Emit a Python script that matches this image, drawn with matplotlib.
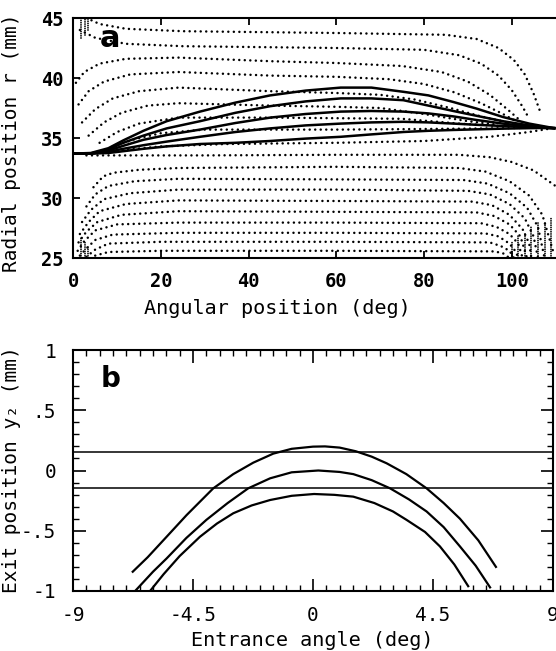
import matplotlib
matplotlib.use('Agg')
import matplotlib.pyplot as plt
from matplotlib.ticker import MultipleLocator

MONO = ['DejaVu Sans Mono', 'DejaVu Sans']

# ------------------------------------------------------------
# panel a : trajectories (solid) and dotted field rows
# ------------------------------------------------------------
traj_deg = [0, 4, 8, 11.4, 16, 21.3, 28.9, 37, 44.9, 53, 61, 68, 75.3, 81, 86.7, 92, 98, 104, 110]
traj1_r = [33.7, 33.75, 34.15, 34.8, 35.6, 36.4, 37.2, 37.95, 38.55, 38.95, 39.2, 39.2, 38.85, 38.55, 38.0, 37.45, 36.75, 36.2, 35.8]
traj2_r = [33.7, 33.72, 34.05, 34.6, 35.2, 35.8, 36.4, 37.1, 37.65, 38.05, 38.3, 38.3, 38.15, 37.7, 37.25, 36.85, 36.4, 36.05, 35.8]
traj3_r = [33.7, 33.7, 33.95, 34.35, 34.85, 35.25, 35.7, 36.25, 36.7, 37.0, 37.2, 37.25, 37.2, 37.05, 36.8, 36.5, 36.2, 35.95, 35.8]
traj4_r = [33.7, 33.7, 33.85, 34.1, 34.4, 34.7, 35.1, 35.5, 35.8, 36.05, 36.2, 36.3, 36.35, 36.3, 36.2, 36.1, 36.0, 35.9, 35.8]
traj5_r = [33.7, 33.7, 33.75, 33.9, 34.1, 34.3, 34.5, 34.6, 34.75, 34.95, 35.1, 35.3, 35.5, 35.6, 35.67, 35.72, 35.78, 35.82, 35.85]

# dotted rows above the beam (deg, r)
row_u0 = [(3, 45.0), (6, 44.5), (12, 44.1), (25, 43.9), (60, 43.75), (85, 43.6), (92, 43.25), (97, 42.5),
          (100.5, 41.5), (103, 40.3), (105, 38.7), (106.5, 37.2)]
row_u1 = [(1.5, 44.0), (5, 43.35), (12, 42.85), (25, 42.65), (60, 42.5), (80, 42.35), (88, 41.9), (93, 41.2),
          (97, 40.2), (100, 39.0), (102.5, 37.6), (104, 36.6)]
row_u2 = [(0.6, 39.6), (2.5, 40.5), (6, 41.2), (12, 41.6), (24, 41.7), (45, 41.4), (60, 41.25), (75, 41.0),
          (84, 40.5), (90, 39.7), (95, 38.6), (99, 37.4), (101.5, 36.6)]
row_u3 = [(1.2, 37.8), (3.5, 38.9), (7, 39.7), (13, 40.3), (24, 40.5), (45, 40.2), (60, 40.1), (72, 39.9),
          (80, 39.5), (87, 38.8), (93, 37.9), (98, 37.0), (101, 36.4)]
row_u4 = [(2, 36.3), (5, 37.4), (9, 38.3), (15, 38.9), (24, 39.2), (45, 38.9), (60, 38.75), (70, 38.6),
          (78, 38.2), (86, 37.5), (93, 36.8), (99, 36.3)]
row_u5 = [(3.5, 35.2), (7, 36.3), (11, 37.1), (17, 37.7), (24, 37.9), (45, 37.7), (60, 37.6), (70, 37.5),
          (80, 37.0), (90, 36.4), (97, 36.1)]
row_u6 = [(6, 34.6), (10, 35.5), (15, 36.2), (24, 36.7), (45, 36.7), (60, 36.65), (75, 36.6), (88, 36.2), (97, 36.0)]
row_u7 = [(9, 34.3), (14, 34.9), (20, 35.4), (30, 35.7), (60, 35.7), (80, 35.75), (95, 35.8), (104, 35.85)]

# dotted rows below the beam (deg, r)
row_la = [(10, 33.95), (20, 34.3), (35, 34.5), (60, 34.6), (80, 34.75), (95, 35.1), (104, 35.5), (109, 35.8)]
row_l0 = [(3, 33.55), (30, 33.55), (60, 33.6), (88, 33.6), (95, 33.4), (100, 33.0), (105, 32.3), (110, 31.0)]
row_l1 = [(4.6, 30.9), (6.8, 31.8), (9.1, 32.1), (15, 32.35), (24, 32.5), (60, 32.6), (88, 32.5), (94, 32.2),
          (99.5, 31.4), (104, 30.2), (107, 28.6), (109.5, 25.5)]
row_l2 = [(3, 29.3), (5, 30.3), (8, 31.0), (14, 31.4), (24, 31.6), (60, 31.55), (89, 31.5), (94.5, 31.2),
          (99.5, 30.4), (103.5, 29.2), (106, 27.6), (107.5, 25)]
row_l3 = [(2, 28.0), (4, 29.0), (7, 29.9), (13, 30.4), (24, 30.7), (60, 30.7), (90, 30.6), (95, 30.3),
          (99.5, 29.5), (103, 28.3), (105, 26.8), (106, 25)]
row_l4 = [(1.5, 27.0), (3.5, 28.0), (6, 28.9), (12, 29.5), (24, 29.8), (60, 29.75), (91, 29.7), (95.5, 29.4),
          (99.5, 28.6), (102.5, 27.4), (104, 26.2), (104.5, 25)]
row_l5 = [(1.2, 26.3), (3, 27.2), (5.5, 28.0), (11, 28.6), (24, 28.9), (60, 28.85), (92, 28.8), (96, 28.5),
          (99.5, 27.8), (102, 26.8), (103.5, 25)]
row_l6 = [(1, 25.6), (2.5, 26.4), (5, 27.3), (10, 27.8), (24, 27.95), (60, 27.95), (93, 27.9), (96.5, 27.6),
          (99.5, 27.0), (101.5, 26.2), (102.5, 25)]
row_l7 = [(1.5, 25.2), (3, 25.8), (5, 26.5), (9, 26.95), (24, 27.1), (60, 27.1), (94, 27.05), (97, 26.8),
          (99.5, 26.2), (101, 25.5), (101.5, 25)]
row_l8 = [(3, 25.1), (5, 25.7), (8, 26.2), (20, 26.35), (60, 26.35), (95, 26.3), (97.5, 26.0), (99.5, 25.6), (100.5, 25)]
row_l9 = [(5, 25.2), (8, 25.5), (20, 25.6), (60, 25.6), (96, 25.55), (98, 25.4), (99.5, 25.0)]

# short hatch marks in the corners (deg, r_bottom, r_top)
hatch_deg = [1.8, 2.6, 3.4, 1.8, 2.6, 3.4,
             100.0, 101.5, 103.0, 104.5, 106.0, 107.5, 109.0]
hatch_r0 = [43.3, 43.6, 44.0, 25.0, 25.0, 25.0,
            25.0, 25.0, 25.0, 25.0, 25.0, 25.0, 25.0]
hatch_r1 = [45.0, 45.0, 45.0, 26.7, 26.3, 25.9,
            26.4, 26.8, 27.2, 27.6, 27.9, 28.1, 28.3]

a_xticks = [0, 20, 40, 60, 80, 100]
a_yticks = [25, 30, 35, 40, 45]

# ------------------------------------------------------------
# panel b : exit position vs entrance angle
# ------------------------------------------------------------
b_levels = [0.155, -0.148]

curve1_deg = [-6.76, -6.2, -5.49, -4.74, -3.74, -2.99, -2.24, -1.49, -0.8, 0.0, 0.45, 1.0, 1.6, 2.2, 2.76,
              3.5, 4.26, 4.9, 5.51, 6.2, 6.86]
curve1_y = [-0.84, -0.72, -0.55, -0.37, -0.148, -0.03, 0.065, 0.14, 0.18, 0.198, 0.20, 0.19, 0.16, 0.115,
            0.06, -0.03, -0.148, -0.27, -0.40, -0.58, -0.80]
curve2_deg = [-6.67, -6.0, -5.49, -4.75, -4.0, -3.2, -2.43, -1.61, -0.8, 0.2, 1.0, 1.51, 2.2, 2.89, 3.6,
              4.26, 4.9, 5.51, 6.1, 6.64]
curve2_y = [-1.0, -0.84, -0.73, -0.56, -0.41, -0.27, -0.148, -0.065, -0.015, 0.0, -0.012, -0.03, -0.08,
            -0.148, -0.24, -0.34, -0.47, -0.63, -0.79, -0.97]
curve3_deg = [-6.11, -5.6, -5.0, -4.24, -3.6, -2.99, -2.3, -1.61, -0.8, 0.04, 0.8, 1.51, 2.3, 3.0, 3.51,
              4.2, 4.76, 5.3, 5.82]
curve3_y = [-1.0, -0.86, -0.71, -0.55, -0.44, -0.355, -0.29, -0.245, -0.21, -0.195, -0.202, -0.217, -0.27,
            -0.34, -0.41, -0.51, -0.63, -0.78, -0.96]

b_xticks = [-9, -4.5, 0, 4.5, 9]
b_xlabels = ['-9', '-4.5', '0', '4.5', '9']
b_yticks = [-1, -0.5, 0, 0.5, 1]
b_ylabels = ['-1', '-.5', '0', '.5', '1']

W, H = 556, 651
DOTS = (0, (0.01, 2.2))


def fig_box(left, top, right, bottom):
    """像素坐标 -> figure 坐标"""
    return [left / W, 1 - bottom / H, (right - left) / W, (bottom - top) / H]


fig = plt.figure(figsize=(W / 100, H / 100), dpi=100)

# ---------------- panel a ----------------
ax = fig.add_axes(fig_box(73.3, 18, 555.5, 258))
for r in [traj1_r, traj2_r, traj3_r, traj4_r, traj5_r]:
    ax.plot(traj_deg, r, color='k', lw=1.8, solid_capstyle='butt', zorder=3)

rows = [row_u0, row_u1, row_u2, row_u3, row_u4, row_u5, row_u6, row_u7,
        row_la, row_l0, row_l1, row_l2, row_l3, row_l4, row_l5, row_l6, row_l7, row_l8, row_l9]
for row in rows:
    xs = [p[0] for p in row]
    ys = [p[1] for p in row]
    ax.plot(xs, ys, color='k', lw=1.8, linestyle=DOTS, dash_capstyle='round', zorder=2)

for x, r0, r1 in zip(hatch_deg, hatch_r0, hatch_r1):
    ax.plot([x, x], [r0, r1], color='k', lw=1.3, linestyle=(0, (0.01, 1.2)), dash_capstyle='round')

ax.set_xlim(0, 110)
ax.set_ylim(25, 45)
ax.set_xticks(a_xticks)
ax.set_yticks(a_yticks)
ax.tick_params(direction='in', length=5, width=1.3, top=True, right=False)
ax.tick_params(axis='x', pad=10)
ax.tick_params(axis='y', pad=7)
for lab in ax.get_xticklabels() + ax.get_yticklabels():
    lab.set_family(MONO)
    lab.set_fontsize(13.5)
    lab.set_fontweight('bold')
ax.spines['right'].set_visible(False)
for s in ['top', 'left', 'bottom']:
    ax.spines[s].set_linewidth(1.5)
ax.text(8.4, 43.3, 'a', fontsize=22, fontweight='bold', family='DejaVu Sans',
        ha='center', va='center', zorder=5)

fig.text(12 / W, 1 - 143 / H, 'Radial position r (mm)', rotation=90, ha='center', va='center',
         family=MONO, fontsize=14)
fig.text(277 / W, 1 - 308 / H, 'Angular position (deg)', ha='center', va='center',
         family=MONO, fontsize=14.5)

# ---------------- panel b ----------------
bx = fig.add_axes(fig_box(73, 350, 553, 591))
for lvl in b_levels:
    bx.axhline(lvl, color='k', lw=1.1)
for xs, ys in [(curve1_deg, curve1_y), (curve2_deg, curve2_y), (curve3_deg, curve3_y)]:
    bx.plot(xs, ys, color='k', lw=1.6)

bx.set_xlim(-9, 9)
bx.set_ylim(-1, 1)
bx.set_xticks(b_xticks)
bx.set_xticklabels(b_xlabels)
bx.set_yticks(b_yticks)
bx.set_yticklabels(b_ylabels)
bx.xaxis.set_minor_locator(MultipleLocator(0.5))
bx.yaxis.set_minor_locator(MultipleLocator(0.1))
bx.tick_params(which='major', direction='in', length=9, width=1.2, top=True, right=True)
bx.tick_params(which='minor', direction='in', length=4.5, width=1.0, top=True, right=True)
bx.tick_params(axis='x', which='major', pad=11)
bx.tick_params(axis='y', which='major', pad=12)
for lab in bx.get_xticklabels() + bx.get_yticklabels():
    lab.set_family(MONO)
    lab.set_fontsize(14)
for s in bx.spines.values():
    s.set_linewidth(1.5)
bx.text(-7.6, 0.76, 'b', fontsize=20, fontweight='bold', family='DejaVu Sans',
        ha='center', va='center')

fig.text(12 / W, 1 - 470 / H, 'Exit position y\u2082 (mm)', rotation=90, ha='center', va='center',
         family=MONO, fontsize=14)
fig.text(312 / W, 1 - 640 / H, 'Entrance angle (deg)', ha='center', va='center',
         family=MONO, fontsize=14.5)

fig.savefig('out.png', dpi=100)
